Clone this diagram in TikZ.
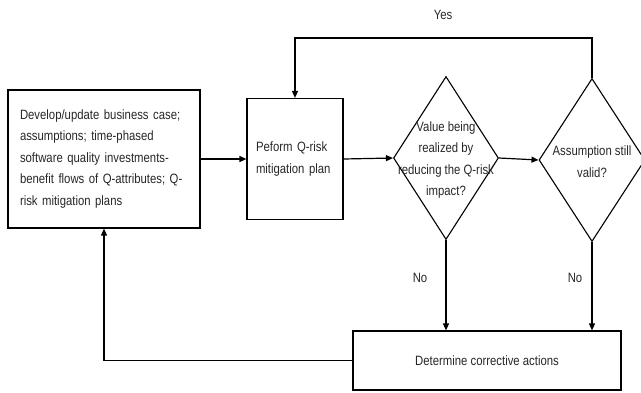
\documentclass[tikz,border=0pt]{standalone}
\usepackage{fontspec}
\setmainfont{Liberation Sans}[FakeStretch=0.84]
\usetikzlibrary{shapes.geometric,arrows.meta}
\begin{document}
\begin{tikzpicture}[x=1pt,y=-1pt,
  every node/.style={font=\fontsize{13.5}{21.5}\selectfont, text=black!85},
  boxnode/.style={draw, line width=1.2pt, inner sep=0pt},
  decision/.style={draw, line width=1.1pt, shape=diamond, inner sep=0pt},
  lbl/.style={inner sep=0pt, align=center},
  flow/.style={line width=1.2pt, -{Triangle[length=7pt,width=6pt]}},
  plain/.style={line width=1.2pt}]
\useasboundingbox (0,0) rectangle (641,392);
\node[boxnode, minimum width=192pt, minimum height=138pt, text width=168pt, inner xsep=12pt, align=left] (lbox) at (104,159)
  {Develop/update business case;\\assumptions; time-phased\\software quality investments-\\benefit flows of Q-attributes; Q-\\risk mitigation plans};
\node[boxnode, minimum width=96pt, minimum height=121pt, text width=78pt, inner xsep=9pt, align=left] (box2) at (295,159)
  {Peform Q-risk\\mitigation plan};
\node[decision, minimum width=105pt, minimum height=163pt] (d1) at (446,158) {};
\node[lbl] (t1) at (446,160) {Value being\\realized by\\reducing the Q-risk\\impact?};
\node[decision, minimum width=106pt, minimum height=163pt] (d2) at (592,160) {};
\node[lbl] (t2) at (592,161.5) {Assumption still\\valid?};
\node[boxnode, minimum width=268pt, minimum height=59pt] (bbox) at (487,360.5)
  {Determine corrective actions};
\node[lbl] (yes) at (443,15) {Yes};
\node[lbl] (no1) at (420,278) {No};
\node[lbl] (no2) at (575,278) {No};
\coordinate (ytop) at (0,38);
\draw[flow] (lbox.east) -- (box2.west);
\draw[flow] (box2.east) -- (d1.west);
\draw[flow] (d1.east) -- (d2.west);
\draw[flow] (d2.north) -- (d2.north |- ytop) -| (box2.north);
\draw[flow] (d1.south) -- (d1.south |- bbox.north);
\draw[flow] (d2.south) -- (d2.south |- bbox.north);
\draw[flow] (bbox.west) -| (lbox.south);
\end{tikzpicture}
\end{document}
